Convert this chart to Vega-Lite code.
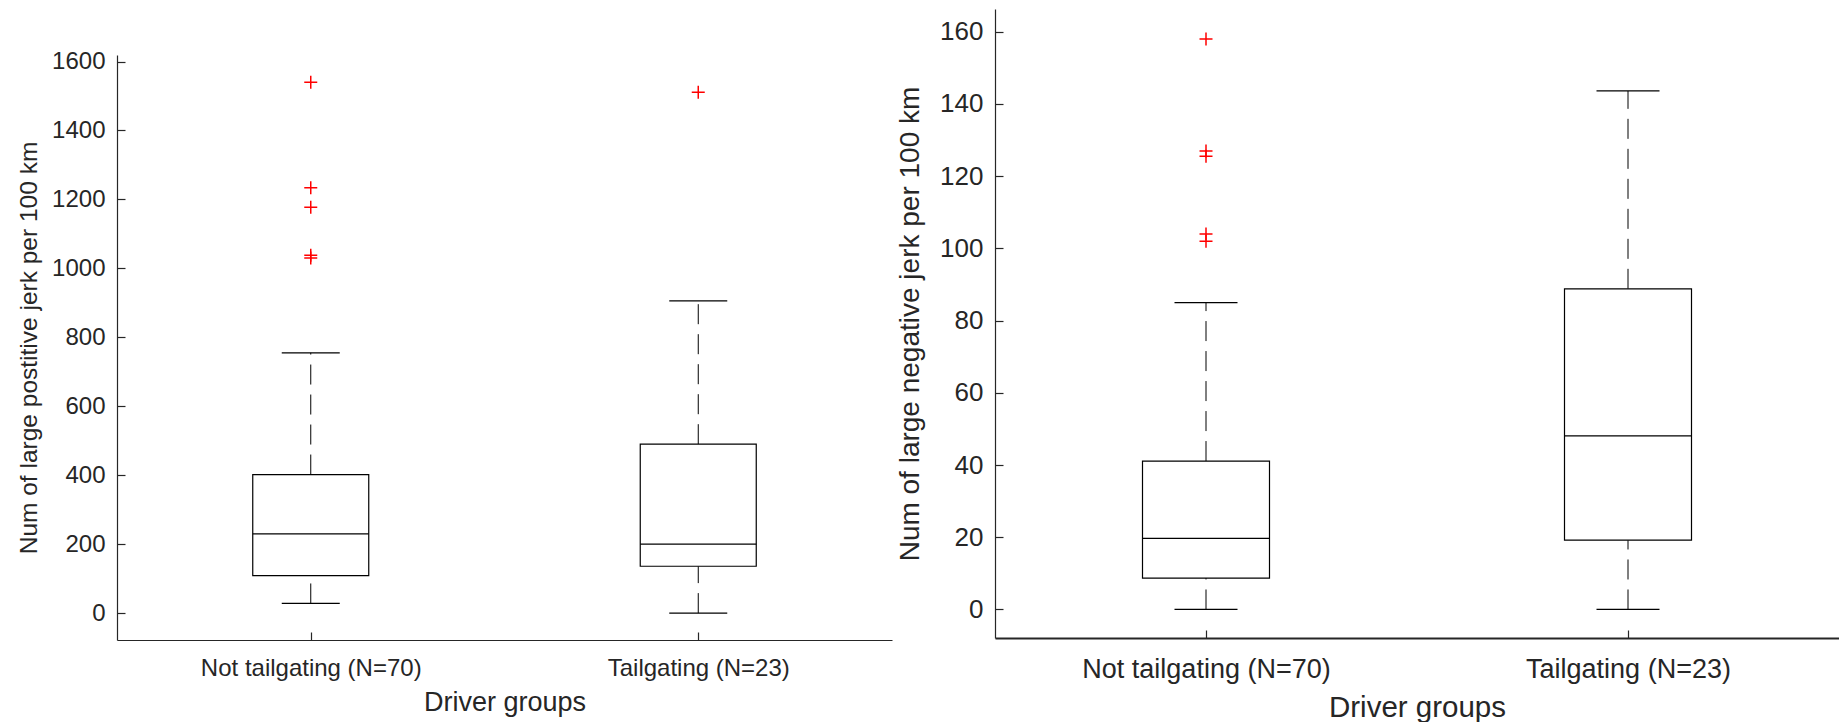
{
  "$schema": "https://vega.github.io/schema/vega-lite/v6.json",
  "padding": {"left": 16, "top": 9, "right": 0, "bottom": 0},
  "spacing": 4,
  "background": "white",
  "datasets": {
    "posBox": [
      {"group": "Not tailgating (N=70)", "lower": 28, "q1": 109, "median": 230, "q3": 402, "upper": 755},
      {"group": "Tailgating (N=23)", "lower": 0, "q1": 136, "median": 200, "q3": 490, "upper": 906}
    ],
    "posOut": [
      {"group": "Not tailgating (N=70)", "value": 1540},
      {"group": "Not tailgating (N=70)", "value": 1234},
      {"group": "Not tailgating (N=70)", "value": 1177},
      {"group": "Not tailgating (N=70)", "value": 1038},
      {"group": "Not tailgating (N=70)", "value": 1030},
      {"group": "Tailgating (N=23)", "value": 1511}
    ],
    "negBox": [
      {"group": "Not tailgating (N=70)", "lower": 0, "q1": 8.7, "median": 19.7, "q3": 41.1, "upper": 85},
      {"group": "Tailgating (N=23)", "lower": 0, "q1": 19.2, "median": 48.1, "q3": 88.8, "upper": 143.6}
    ],
    "negOut": [
      {"group": "Not tailgating (N=70)", "value": 158},
      {"group": "Not tailgating (N=70)", "value": 127},
      {"group": "Not tailgating (N=70)", "value": 125.5},
      {"group": "Not tailgating (N=70)", "value": 104},
      {"group": "Not tailgating (N=70)", "value": 102}
    ],
    "spacer": [{"blank": 0}]
  },
  "hconcat": [
    {
      "spacing": 10,
      "vconcat": [
        {
          "width": 775,
          "height": 30,
          "data": {"name": "spacer"},
          "mark": {"type": "point", "opacity": 0}
        },
        {
          "width": 775,
          "height": 585,
          "encoding": {
            "x": {
              "field": "group", "type": "nominal", "sort": null,
              "scale": {"type": "point", "padding": 0.5},
              "axis": {"title": "Driver groups", "labelAngle": 0, "labelLimit": 0, "labelFontSize": 24, "titleFontSize": 27, "tickSize": -8, "labelPadding": 24, "titlePadding": 9}
            }
          },
          "layer": [
            {
              "data": {"name": "posBox"},
              "mark": {"type": "rule", "color": "#000000", "strokeWidth": 1, "strokeDash": [20, 10]},
              "encoding": {
                "y": {"field": "q3", "type": "quantitative", "title": "Num of large postitive jerk per 100 km",
                  "scale": {"domain": [-78, 1619], "nice": false, "zero": false},
                  "axis": {"values": [0, 200, 400, 600, 800, 1000, 1200, 1400, 1600], "format": "d", "labelFontSize": 24, "titleFontSize": 24.5, "tickSize": -8, "labelPadding": 20, "titlePadding": 10, "grid": false}},
                "y2": {"field": "upper"}
              }
            },
            {
              "data": {"name": "posBox"},
              "mark": {"type": "rule", "color": "#000000", "strokeWidth": 1, "strokeDash": [20, 10]},
              "encoding": {
                "y": {"field": "lower", "type": "quantitative", "title": "Num of large postitive jerk per 100 km"},
                "y2": {"field": "q1"}
              }
            },
            {
              "data": {"name": "posBox"},
              "mark": {"type": "bar", "size": 116, "fill": "white", "stroke": "#000000", "strokeWidth": 1.2},
              "encoding": {
                "y": {"field": "q1", "type": "quantitative", "title": "Num of large postitive jerk per 100 km"},
                "y2": {"field": "q3"}
              }
            },
            {
              "data": {"name": "posBox"},
              "mark": {"type": "tick", "size": 116, "thickness": 1.2, "color": "#000000", "opacity": 1},
              "encoding": {"y": {"field": "median", "type": "quantitative", "title": "Num of large postitive jerk per 100 km"}}
            },
            {
              "data": {"name": "posBox"},
              "mark": {"type": "tick", "size": 58, "thickness": 1.2, "color": "#000000", "opacity": 1},
              "encoding": {"y": {"field": "upper", "type": "quantitative", "title": "Num of large postitive jerk per 100 km"}}
            },
            {
              "data": {"name": "posBox"},
              "mark": {"type": "tick", "size": 58, "thickness": 1.2, "color": "#000000", "opacity": 1},
              "encoding": {"y": {"field": "lower", "type": "quantitative", "title": "Num of large postitive jerk per 100 km"}}
            },
            {
              "data": {"name": "posOut"},
              "mark": {"type": "point", "shape": "M-1,0L1,0M0,-1L0,1", "size": 169, "filled": false, "stroke": "#ff0000", "strokeWidth": 1.5, "opacity": 1},
              "encoding": {"y": {"field": "value", "type": "quantitative", "title": "Num of large postitive jerk per 100 km"}}
            }
          ]
        }
      ]
    },
    {
      "width": 844,
      "height": 629,
      "encoding": {
        "x": {
          "field": "group", "type": "nominal", "sort": null,
          "scale": {"type": "point", "padding": 0.5},
          "axis": {"title": "Driver groups", "labelAngle": 0, "labelLimit": 0, "labelFontSize": 27, "titleFontSize": 29.5, "tickSize": -8, "labelPadding": 26, "titlePadding": 11, "domainWidth": 2}
        }
      },
      "layer": [
        {
          "data": {"name": "negBox"},
          "mark": {"type": "rule", "color": "#000000", "strokeWidth": 1, "strokeDash": [20, 10]},
          "encoding": {
            "y": {"field": "q3", "type": "quantitative", "title": "Num of large negative jerk per 100 km",
              "scale": {"domain": [-7.9, 166.3], "nice": false, "zero": false},
              "axis": {"values": [0, 20, 40, 60, 80, 100, 120, 140, 160], "format": "d", "labelFontSize": 26, "titleFontSize": 28, "tickSize": -8, "labelPadding": 20, "titlePadding": 15, "grid": false}},
            "y2": {"field": "upper"}
          }
        },
        {
          "data": {"name": "negBox"},
          "mark": {"type": "rule", "color": "#000000", "strokeWidth": 1, "strokeDash": [20, 10]},
          "encoding": {
            "y": {"field": "lower", "type": "quantitative", "title": "Num of large negative jerk per 100 km"},
            "y2": {"field": "q1"}
          }
        },
        {
          "data": {"name": "negBox"},
          "mark": {"type": "bar", "size": 127, "fill": "white", "stroke": "#000000", "strokeWidth": 1.2},
          "encoding": {
            "y": {"field": "q1", "type": "quantitative", "title": "Num of large negative jerk per 100 km"},
            "y2": {"field": "q3"}
          }
        },
        {
          "data": {"name": "negBox"},
          "mark": {"type": "tick", "size": 127, "thickness": 1.2, "color": "#000000", "opacity": 1},
          "encoding": {"y": {"field": "median", "type": "quantitative", "title": "Num of large negative jerk per 100 km"}}
        },
        {
          "data": {"name": "negBox"},
          "mark": {"type": "tick", "size": 63, "thickness": 1.2, "color": "#000000", "opacity": 1},
          "encoding": {"y": {"field": "upper", "type": "quantitative", "title": "Num of large negative jerk per 100 km"}}
        },
        {
          "data": {"name": "negBox"},
          "mark": {"type": "tick", "size": 63, "thickness": 1.2, "color": "#000000", "opacity": 1},
          "encoding": {"y": {"field": "lower", "type": "quantitative", "title": "Num of large negative jerk per 100 km"}}
        },
        {
          "data": {"name": "negOut"},
          "mark": {"type": "point", "shape": "M-1,0L1,0M0,-1L0,1", "size": 169, "filled": false, "stroke": "#ff0000", "strokeWidth": 1.5, "opacity": 1},
          "encoding": {"y": {"field": "value", "type": "quantitative", "title": "Num of large negative jerk per 100 km"}}
        }
      ]
    }
  ],
  "config": {
    "font": "Liberation Sans",
    "view": {"stroke": null},
    "axis": {
      "domainColor": "#262626", "tickColor": "#262626", "labelColor": "#262626", "titleColor": "#262626",
      "labelFont": "Liberation Sans", "titleFont": "Liberation Sans", "titleFontWeight": "normal",
      "domainWidth": 1.2, "tickWidth": 1.2, "grid": false
    }
  }
}
